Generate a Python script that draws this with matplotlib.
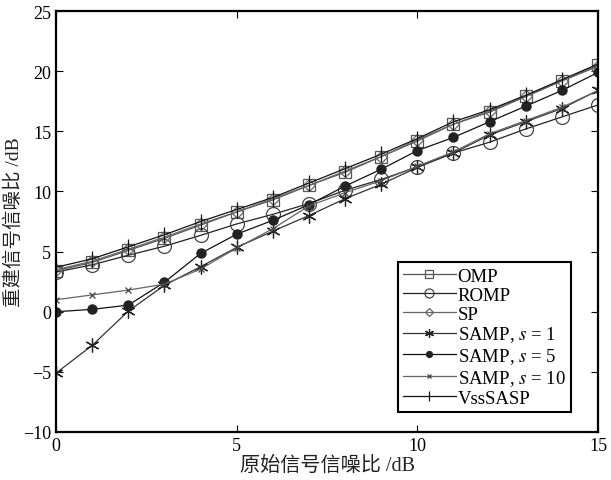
import numpy as np
import matplotlib
matplotlib.use("Agg")
import matplotlib.pyplot as plt

plt.rcParams['font.family'] = ['Liberation Serif', 'Noto Sans CJK SC', 'DejaVu Sans']
plt.rcParams['mathtext.fontset'] = 'stix'

# input SNR (dB)
snr_in = np.arange(0, 16)

# reconstructed SNR per algorithm (dB)
omp = [3.4, 4.1, 5.1, 6.1, 7.2, 8.3, 9.3, 10.5, 11.6, 12.9, 14.2, 15.6, 16.6, 17.9, 19.2, 20.5]
romp = [3.3, 3.9, 4.7, 5.45, 6.35, 7.3, 8.1, 9.0, 10.1, 11.0, 12.05, 13.2, 14.1, 15.2, 16.2, 17.2]
sp = [3.5, 4.2, 5.2, 6.2, 7.3, 8.3, 9.4, 10.5, 11.7, 12.9, 14.3, 15.6, 16.7, 17.9, 19.2, 20.4]
samp_s1 = [-5.1, -2.8, 0.05, 2.2, 3.75, 5.35, 6.7, 8.0, 9.4, 10.6, 12.0, 13.2, 14.7, 15.8, 16.9, 18.4]
samp_s5 = [0.0, 0.2, 0.55, 2.45, 4.85, 6.45, 7.6, 8.9, 10.45, 11.85, 13.4, 14.5, 15.8, 17.1, 18.4, 19.9]
samp_s10 = [1.0, 1.4, 1.8, 2.3, 3.55, 5.3, 6.9, 8.8, 9.9, 10.9, 12.1, 13.3, 14.8, 15.9, 17.0, 18.4]
vsssasp = [3.7, 4.4, 5.4, 6.4, 7.5, 8.5, 9.5, 10.7, 11.9, 13.1, 14.4, 15.8, 16.8, 18.0, 19.3, 20.6]

labels = ["OMP", "ROMP", "SP", "SAMP, $s$ = 1", "SAMP, $s$ = 5", "SAMP, $s$ = 10", "VssSASP"]

fig = plt.figure(figsize=(6.11, 4.81), dpi=100)
ax = fig.add_axes([0.0917, 0.0998, 0.887, 0.875])

lw = 0.9
asterisk = (6, 2, 0)
ax.plot(snr_in, omp, color='#555555', lw=lw, marker='s', ms=9, mfc='none', mec='#555555', mew=0.9, label=labels[0])
ax.plot(snr_in, romp, color='#222222', lw=lw, marker='o', ms=10, mfc='none', mec='#444444', mew=0.9, label=labels[1])
ax.plot(snr_in, sp, color='#666666', lw=lw, marker='D', ms=6.5, mfc='none', mec='#666666', mew=0.9, label=labels[2])
ax.plot(snr_in, samp_s1, color='#333333', lw=lw, marker=asterisk, ms=10, mec='#222222', mew=0.9, label=labels[3])
ax.plot(snr_in, samp_s5, color='#111111', lw=lw, marker='o', ms=6.5, mfc='#222222', mec='#222222', label=labels[4])
ax.plot(snr_in, samp_s10, color='#666666', lw=lw, marker='x', ms=5, mec='#444444', mew=0.9, label=labels[5])
ax.plot(snr_in, vsssasp, color='#111111', lw=lw, marker='|', ms=12, mec='#111111', mew=0.9, label=labels[6])

ax.set_xlim(0, 15)
ax.set_ylim(-10, 25)
ax.set_xticks([0, 5, 10, 15])
ax.set_yticks(np.arange(-10, 26, 5))
ax.tick_params(direction='in', top=True, right=True, labelsize=13, length=5, width=0.8)
for sp_ in ax.spines.values():
    sp_.set_linewidth(1.6)

ax.set_xlabel("原始信号信噪比 /dB", fontsize=14.5, color='#222222', labelpad=1)
ax.set_ylabel("重建信号信噪比 /dB", fontsize=14, color='#222222')
ax.yaxis.set_label_coords(-0.061, 0.5)

leg = ax.legend(loc='lower right', bbox_to_anchor=(0.95, 0.047), fontsize=13.5,
                frameon=True, fancybox=False, edgecolor='black', framealpha=1,
                handlelength=2.8, handletextpad=0.1, labelspacing=0.1,
                borderpad=0.3, borderaxespad=0, markerscale=0.65)
leg.get_frame().set_linewidth(1.5)

fig.savefig("out.png", dpi=100)
